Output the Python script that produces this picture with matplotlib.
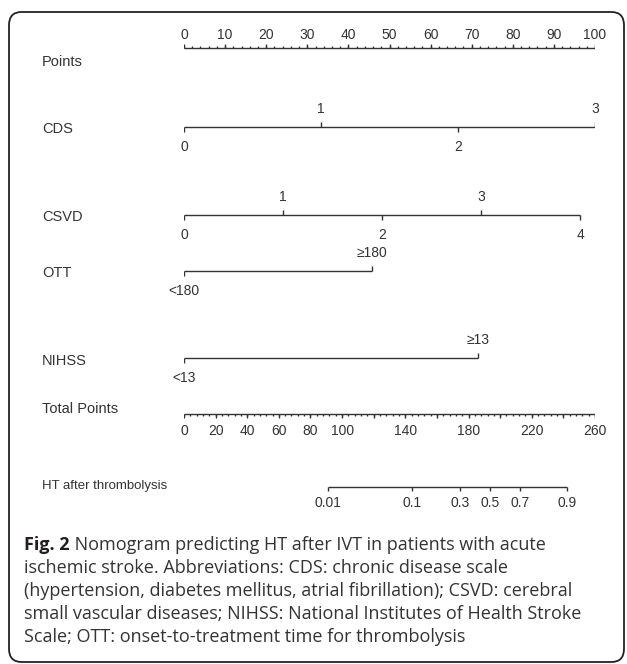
import numpy as np
import matplotlib
matplotlib.use("Agg")
import matplotlib.pyplot as plt
from matplotlib.patches import FancyBboxPatch
from matplotlib.transforms import blended_transform_factory

# nomogram scales (points per level)
points_ticks = np.arange(0, 101, 10)
points_minor = np.arange(0, 101, 2)

cds_levels = ["0", "1", "2", "3"]
cds_points = [0, 33.3, 66.7, 100]

csvd_levels = ["0", "1", "2", "3", "4"]
csvd_points = [0, 24.1, 48.2, 72.3, 96.4]

ott_levels = ["<180", "≥180"]
ott_points = [0, 45.7]

nihss_levels = ["<13", "≥13"]
nihss_points = [0, 71.5]

total_max = 260
total_major = np.arange(0, 261, 20)
total_minor = np.arange(0, 261, 4)
total_labels = [0, 20, 40, 60, 80, 100, 140, 180, 220, 260]

prob_ticks = [0.01, 0.1, 0.3, 0.5, 0.7, 0.9]
lp_mid = 193.5      # total points at p = 0.5
lp_slope = 22.3     # total points per logit unit

caption_bold = "Fig. 2"
caption_lines = [
    " Nomogram predicting HT after IVT in patients with acute",
    "ischemic stroke. Abbreviations: CDS: chronic disease scale",
    "(hypertension, diabetes mellitus, atrial fibrillation); CSVD: cerebral",
    "small vascular diseases; NIHSS: National Institutes of Health Stroke",
    "Scale; OTT: onset-to-treatment time for thrombolysis",
]

W, H = 627, 664
ink = "#333333"
plt.rcParams["font.family"] = ["Liberation Sans", "DejaVu Sans"]

fig = plt.figure(figsize=(W / 100, H / 100), dpi=100)
ax = fig.add_axes([184 / W, 0, 411 / W, 1])
ax.set_xlim(0, 100)
ax.set_ylim(H, 0)
ax.axis("off")

lab = blended_transform_factory(fig.transFigure, ax.transData)
name_x = 42 / W
fs_name = 10.5
fs_tick = 10


def row_name(text, y, fs=fs_name):
    ax.text(name_x, y, text, transform=lab, fontsize=fs, color=ink,
            ha="left", va="center")


def seg(x0, x1, y):
    ax.plot([x0, x1], [y, y], color=ink, lw=1.0, solid_capstyle="butt")


def tick(x, y, length):
    ax.plot([x, x], [y, y + length], color=ink, lw=1.0, solid_capstyle="butt")


# Points axis
y = 48
seg(0, 100, y)
for v in points_minor:
    tick(v, y, -1.8)
for v in points_ticks:
    tick(v, y, -4.5)
    ax.text(v, y - 13, str(v), ha="center", va="center", fontsize=fs_tick, color=ink)
row_name("Points", 62)


def factor_row(name, levels, pts, y, name_y):
    seg(pts[0], pts[-1], y)
    for i, (lv, p) in enumerate(zip(levels, pts)):
        if i % 2 == 0:
            tick(p, y, 5)
            ax.text(p, y + 20, lv, ha="center", va="center", fontsize=fs_tick, color=ink)
        else:
            tick(p, y, -5)
            ax.text(p, y - 18, lv, ha="center", va="center", fontsize=fs_tick, color=ink)
    row_name(name, name_y)


factor_row("CDS", cds_levels, cds_points, 127, 129)
factor_row("CSVD", csvd_levels, csvd_points, 215, 217)
factor_row("OTT", ott_levels, ott_points, 271, 273)
factor_row("NIHSS", nihss_levels, nihss_points, 358, 361)

# Total points axis
scale = 100 / total_max
y = 414
seg(0, 100, y)
for v in total_minor:
    tick(v * scale, y, 2.2)
for v in total_major:
    tick(v * scale, y, 4)
for v in total_labels:
    ax.text(v * scale, y + 17, str(v), ha="center", va="center", fontsize=fs_tick, color=ink)
row_name("Total Points", 409)

# probability axis
y = 487
prob_pos = [(lp_mid + lp_slope * np.log(p / (1 - p))) * scale for p in prob_ticks]
seg(prob_pos[0], prob_pos[-1], y)
for p, x in zip(prob_ticks, prob_pos):
    tick(x, y, 4)
    ax.text(x, y + 16, f"{p:g}", ha="center", va="center", fontsize=fs_tick, color=ink)
row_name("HT after thrombolysis", 486, fs=9.5)

# caption
cap_font = ["Open Sans", "DejaVu Sans"]
cap_fs = 13
cap_x = 24 / W
t = fig.text(cap_x, 1 - 545 / H, caption_bold, fontsize=cap_fs, fontweight="bold",
             family=cap_font, color="#231f20", ha="left", va="center")
fig.canvas.draw()
bb = t.get_window_extent()
fig.text(bb.x1 / W, 1 - 545 / H, caption_lines[0], fontsize=cap_fs, family=cap_font,
         color="#333333", ha="left", va="center")
for i, line in enumerate(caption_lines[1:], start=1):
    fig.text(cap_x, 1 - (545 + 23 * i) / H, line, fontsize=cap_fs, family=cap_font,
             color="#333333", ha="left", va="center")

# rounded frame
frame = FancyBboxPatch((9 / W, 2 / H), 615 / W, 650 / H,
                       boxstyle="round,pad=0,rounding_size=0.02",
                       transform=fig.transFigure, fill=False, ec="#222222", lw=1.3)
fig.patches.append(frame)

fig.savefig("out.png", dpi=100)
